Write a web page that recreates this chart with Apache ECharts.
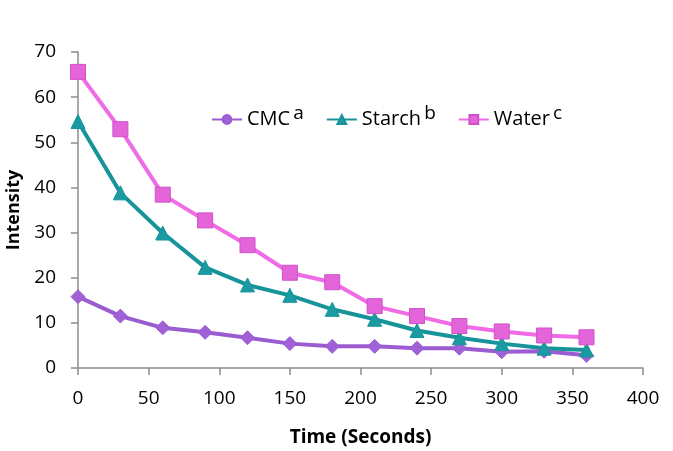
<!DOCTYPE html>
<html><head><meta charset="utf-8">
<script src="https://cdn.jsdelivr.net/npm/echarts@6/dist/echarts.min.js"></script>
<style>html,body{margin:0;padding:0;background:#fff}#c{width:673px;height:451px}</style>
</head><body><div id="c"></div>
<script>
var times = [0, 30, 60, 90, 120, 150, 180, 210, 240, 270, 300, 330, 360];
var cmc = [15.8, 11.5, 8.9, 7.9, 6.7, 5.4, 4.8, 4.8, 4.4, 4.4, 3.6, 3.7, 2.8];
var starch = [54.6, 38.8, 29.9, 22.3, 18.4, 16.1, 13.0, 10.8, 8.3, 6.7, 5.4, 4.4, 4.0];
var water = [65.6, 52.9, 38.4, 32.7, 27.2, 21.1, 19.0, 13.7, 11.5, 9.3, 8.1, 7.2, 6.8];
var names = ['CMC', 'Starch', 'Water'];
var sups = ['a', 'b', 'c'];

function pts(arr, sym){ return times.map(function(t,i){ return {value: [t, arr[i]], symbol: sym}; }); }
var FONT = 'Open Sans';
var chart = echarts.init(document.getElementById('c'));
chart.setOption({
  animation: false,
  textStyle: {fontFamily: FONT},
  grid: {left: 78, right: 30, top: 52, bottom: 83, containLabel: false, outerBoundsMode: 'none'},
  legend: {
    left: 206, top: 99, itemGap: 22, itemWidth: 30, itemHeight: 11,
    data: names,
    formatter: function(n){ return '{n|' + n + '} {s|' + sups[names.indexOf(n)] + '}'; },
    textStyle: {
      rich: {
        n: {fontSize: 20, color: '#000', fontFamily: FONT},
        s: {fontSize: 19, color: '#000', fontFamily: FONT, verticalAlign: 'top', padding: [0,0,12,0]}
      }
    }
  },
  xAxis: {
    type: 'value', min: 0, max: 400, interval: 50,
    name: 'Time (Seconds)', nameLocation: 'middle', nameGap: 60,
    nameTextStyle: {fontSize: 19, fontWeight: 'bold', color: '#000', fontFamily: FONT},
    axisLine: {lineStyle: {color: '#8c8c8c', width: 1.5}},
    axisTick: {show: true, length: 7, lineStyle: {color: '#8c8c8c', width: 1.5}},
    axisLabel: {fontSize: 19, color: '#000', margin: 21},
    splitLine: {show: false}
  },
  yAxis: {
    type: 'value', min: 0, max: 70, interval: 10,
    name: 'Intensity', nameLocation: 'middle', nameGap: 55, nameRotate: 90,
    nameTextStyle: {fontSize: 18, fontWeight: 'bold', color: '#000', fontFamily: FONT},
    axisLine: {show: true, lineStyle: {color: '#8c8c8c', width: 1.5}},
    axisTick: {show: true, length: 7, lineStyle: {color: '#8c8c8c', width: 1.5}},
    axisLabel: {fontSize: 19, color: '#000', margin: 22},
    splitLine: {show: false}
  },
  series: [
    {name: 'CMC', type: 'line', data: pts(cmc, 'diamond'), symbol: 'circle', symbolSize: 14,
     lineStyle: {color: '#9a5cd0', width: 4}, itemStyle: {color: '#a060d6', borderColor: '#9a5cd0', borderWidth: 1}},
    {name: 'Starch', type: 'line', data: pts(starch, 'triangle'), symbol: 'triangle', symbolSize: 14,
     lineStyle: {color: '#17939a', width: 4}, itemStyle: {color: '#1a9ba2', borderColor: '#17939a', borderWidth: 1}},
    {name: 'Water', type: 'line', data: pts(water, 'rect'), symbol: 'rect', symbolSize: 15,
     lineStyle: {color: '#f06be6', width: 4}, itemStyle: {color: '#e464da', borderColor: '#d050c8', borderWidth: 1}}
  ]
});
</script></body></html>
